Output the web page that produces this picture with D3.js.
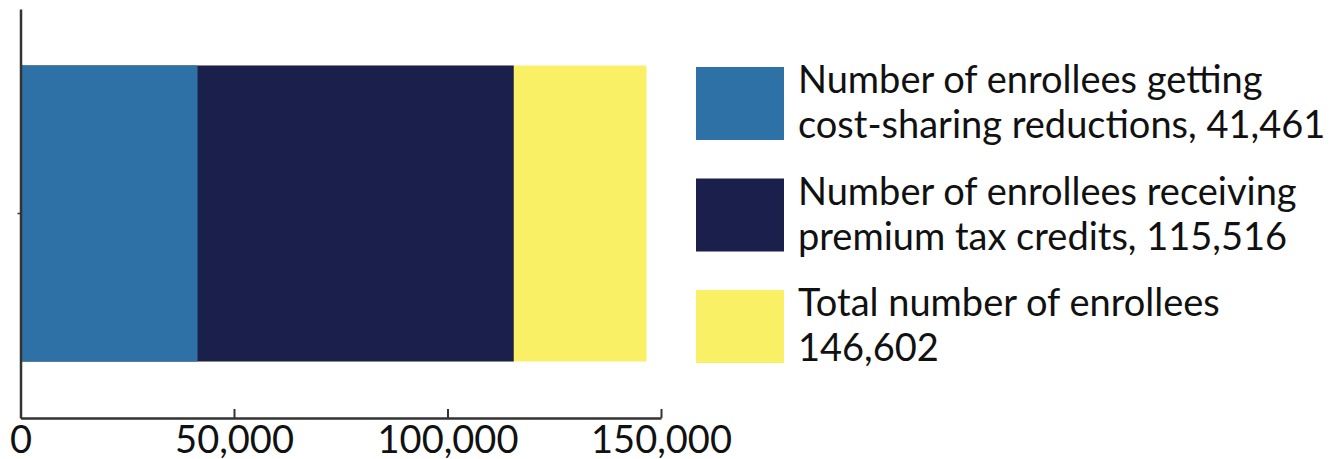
<!DOCTYPE html>
<html>
<head>
<meta charset="utf-8">
<script src="https://cdn.jsdelivr.net/npm/d3@7"></script>
<style>
  html, body { margin: 0; padding: 0; background: #fff; }
  svg { display: block; font-family: Lato, "Open Sans", sans-serif; }
</style>
</head>
<body>
<svg id="chart" width="1339" height="459"></svg>
<script>
// Enrollment figures (overlaid on one bar: total, then subsets)
const category = ["Enrollees"];
const seriesKeys = ["total", "premiumTaxCredits", "costSharing"];
const seriesValues = [146602, 115516, 41461];
const seriesColors = ["#F9F066", "#1B1F4B", "#2E71A6"];

// Legend order and wording
const legendKeys = ["costSharing", "premiumTaxCredits", "total"];
const legendLine1 = ["Number of enrollees getting", "Number of enrollees receiving", "Total number of enrollees"];
const legendLine2Prefix = ["cost-sharing reductions, ", "premium tax credits, ", ""];

const xTicks = [0, 50000, 100000, 150000];

const svg = d3.select("#chart");
const fmt = d3.format(",");

const x = d3.scaleLinear().domain([0, 150000]).range([20.5, 661]);
const y = d3.scaleBand().domain(category).range([9, 418]).padding(0.1603);

const valueOf = k => seriesValues[seriesKeys.indexOf(k)];
const colorOf = k => seriesColors[seriesKeys.indexOf(k)];

// Bars, largest first so smaller ones sit on top
svg.append("g").selectAll("rect")
  .data(seriesKeys)
  .join("rect")
  .attr("x", x(0))
  .attr("y", y(category[0]))
  .attr("width", k => x(valueOf(k)) - x(0))
  .attr("height", y.bandwidth())
  .attr("fill", k => colorOf(k));

// X axis with inward ticks
const xAxis = svg.append("g")
  .attr("transform", "translate(0,418)")
  .call(d3.axisBottom(x).tickValues(xTicks).tickFormat(fmt)
    .tickSizeInner(-9).tickSizeOuter(0).tickPadding(8));
xAxis.select(".domain").attr("stroke", "#333").attr("stroke-width", 2.5);
xAxis.selectAll(".tick line").attr("stroke", "#333").attr("stroke-width", 2);
xAxis.selectAll(".tick text")
  .attr("font-size", 38).attr("fill", "#111").attr("font-family", "Lato, sans-serif");

// Y axis: plain line with a short category tick
const yAxis = svg.append("g")
  .attr("transform", "translate(20.5,0)")
  .call(d3.axisLeft(y).tickSize(3).tickSizeOuter(0).tickFormat(""));
yAxis.select(".domain").attr("stroke", "#333").attr("stroke-width", 2.5);
yAxis.selectAll(".tick line").attr("stroke", "#333").attr("stroke-width", 1.5);

// Legend
const ly = d3.scalePoint().domain(legendKeys).range([67, 290]);
const legend = svg.append("g").selectAll("g")
  .data(legendKeys)
  .join("g")
  .attr("transform", k => `translate(696,${ly(k)})`);

legend.append("rect")
  .attr("width", 88)
  .attr("height", 73)
  .attr("fill", k => colorOf(k));

legend.append("text")
  .attr("x", 102)
  .attr("y", 26)
  .attr("font-size", 38)
  .attr("fill", "#111")
  .text((k, i) => legendLine1[i]);

legend.append("text")
  .attr("x", 102)
  .attr("y", 71)
  .attr("font-size", 38)
  .attr("fill", "#111")
  .text((k, i) => legendLine2Prefix[i] + fmt(valueOf(k)));
</script>
</body>
</html>
